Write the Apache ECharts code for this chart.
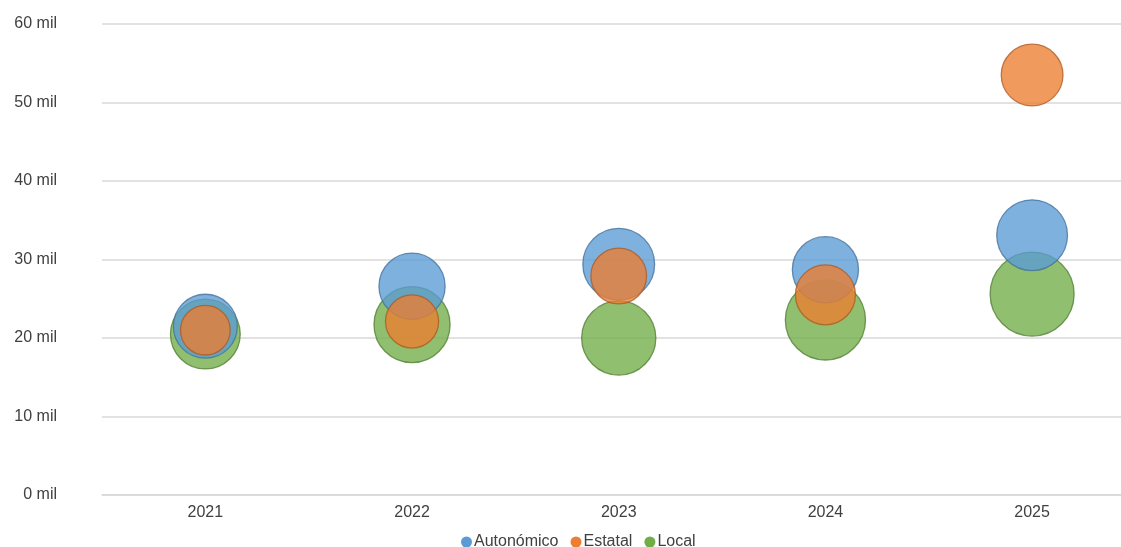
<!DOCTYPE html>
<html>
<head>
<meta charset="utf-8">
<style>
  html, body { margin: 0; padding: 0; background: #fff; }
  #main { width: 1121px; height: 547px; }
</style>
<script src="https://cdn.jsdelivr.net/npm/echarts@6/dist/echarts.min.js"></script>
</head>
<body>
<div id="main"></div>
<script>
var anos = [2021, 2022, 2023, 2024, 2025];
var seriesNames = ['Autonómico', 'Estatal', 'Local'];

// valores (en unidades)
var autonomico = [21500, 26600, 29400, 28700, 33100];
var estatal = [21000, 22100, 27900, 25500, 53500];
var local = [20500, 21700, 20000, 22300, 25600];

// tamaño de burbuja (relativo, el mayor = 100)
var tamAutonomico = [58, 62, 73, 62, 71];
var tamEstatal = [35, 40, 44, 51, 54];
var tamLocal = [69, 82, 78, 91, 100];

var yTicks = [0, 10000, 20000, 30000, 40000, 50000, 60000];

function puntos(valores, tams) {
    return anos.map(function (a, i) { return [a, valores[i], tams[i]]; });
}

var myChart = echarts.init(document.getElementById('main'));

function burbuja(nombre, valores, tams, color, borde, z) {
    return {
        name: nombre,
        type: 'scatter',
        z: z,
        data: puntos(valores, tams),
        symbolSize: function (d) { return 2 * 42 * Math.sqrt(d[2] / 100); },
        itemStyle: {
            color: color,
            opacity: 0.78,
            borderColor: borde,
            borderWidth: 1.3
        },
        emphasis: { disabled: true }
    };
}

var option = {
    animation: false,
    color: ['#5B9BD5', '#ED7D31', '#70AD47'],
    textStyle: { fontFamily: 'Liberation Sans, Arial, sans-serif' },
    grid: {
        left: 102,
        right: 0,
        top: 24,
        bottom: 52
    },
    legend: {
        data: seriesNames,
        top: 529,
        left: 456,
        icon: 'circle',
        itemWidth: 11,
        itemHeight: 11,
        itemGap: 12,
        itemStyle: { borderWidth: 0, opacity: 1 },
        textStyle: { color: '#404040', fontSize: 16, padding: [0, 0, 0, -3] }
    },
    xAxis: {
        type: 'value',
        min: 2020.5,
        max: 2025.43,
        axisLine: { show: true, onZero: false, lineStyle: { color: '#d9d9d9', width: 1.5 } },
        axisTick: { show: false },
        axisLabel: {
            color: '#404040',
            fontSize: 16,
            margin: 10,
            customValues: anos,
            formatter: function (v) { return String(v); }
        },
        splitLine: { show: false }
    },
    yAxis: {
        type: 'value',
        min: yTicks[0],
        max: yTicks[yTicks.length - 1],
        interval: 10000,
        axisLine: { show: false },
        axisTick: { show: false },
        axisLabel: {
            color: '#404040',
            fontSize: 16,
            margin: 45,
            formatter: function (v) { return (v / 1000) + ' mil'; }
        },
        splitLine: { lineStyle: { color: '#d9d9d9', width: 1.5 } }
    },
    series: [
        burbuja(seriesNames[0], autonomico, tamAutonomico, '#5B9BD5', '#41719C', 3),
        burbuja(seriesNames[1], estatal, tamEstatal, '#ED7D31', '#AE5A21', 4),
        burbuja(seriesNames[2], local, tamLocal, '#70AD47', '#507E32', 2)
    ]
};

myChart.setOption(option);
</script>
</body>
</html>
